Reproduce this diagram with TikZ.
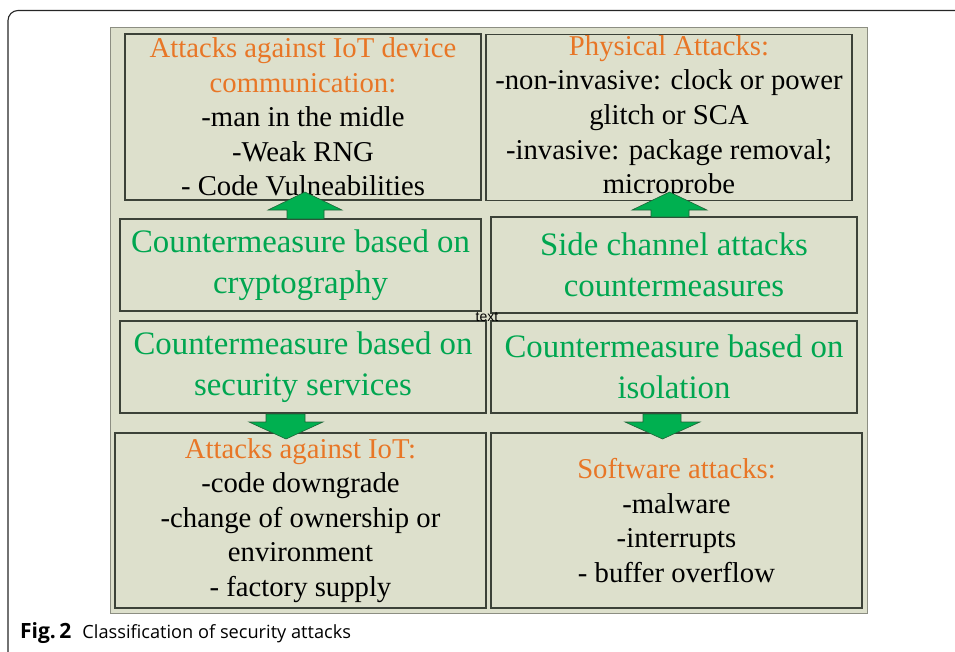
\documentclass[tikz,border=0pt]{standalone}
\usepackage{fontspec}
\setmainfont{Liberation Serif}
\newfontfamily\capfont{Open Sans}
\newfontfamily\tagfont{Liberation Sans}
\definecolor{panelbg}{RGB}{221,224,204}
\definecolor{panelrule}{RGB}{140,142,130}
\definecolor{boxrule}{RGB}{60,66,56}
\definecolor{attackorange}{RGB}{232,118,38}
\definecolor{cmgreen}{RGB}{0,166,80}
\definecolor{arrowfill}{RGB}{0,176,80}
\definecolor{arrowrule}{RGB}{30,100,55}
\tikzset{
  box/.style={draw=boxrule, line width=1.2pt, fill=panelbg, inner sep=0pt,
              align=center, font=\fontsize{28.7}{34.6}\selectfont},
  cmbox/.style={box, text=cmgreen, font=\fontsize{32.8}{41}\selectfont},
  blockarrow/.style={fill=arrowfill, draw=arrowrule, line width=0.6pt, line join=miter},
}
\newcommand{\hdr}[1]{\textcolor{attackorange}{#1}}
\begin{document}
\begin{tikzpicture}[x=1pt,y=-1pt]
\useasboundingbox (0,0) rectangle (955,651);
% outer frame, open to the right and bottom
\begin{scope}
  \clip (0,0) rectangle (955,651);
  \draw[line width=1.1pt, rounded corners=10pt, draw=black!85] (8,10.5) rectangle (990,690);
\end{scope}
% panel background
\fill[panelbg] (110,27) rectangle (867,613);
\draw[panelrule, line width=1pt] (110,27) rectangle (867,613);

% attack boxes
\node[box, minimum width=356pt, minimum height=166pt] (comm) at (303,117)
  {\hdr{Attacks against IoT device}\\\hdr{communication:}\\-man in the midle\\-Weak RNG\\- Code Vulneabilities};
\node[box, minimum width=366pt, minimum height=166pt] (phys) at (669,117.5)
  {\hdr{Physical Attacks:}\\-non-invasive: clock or power\\glitch or SCA\\-invasive: package removal;\\microprobe};
\node[box, minimum width=371pt, minimum height=175pt] (iot) at (300.5,520.5)
  {\hdr{Attacks against IoT:}\\-code downgrade\\-change of ownership or\\environment\\- factory supply};
\node[box, minimum width=371pt, minimum height=175pt] (soft) at (676.5,520.5)
  {\hdr{Software attacks:}\\-malware\\-interrupts\\- buffer overflow};

% countermeasure boxes
\node[cmbox, minimum width=361pt, minimum height=92pt] (crypto) at (300.5,265)
  {Countermeasure based on\\cryptography};
\node[cmbox, minimum width=366pt, minimum height=96pt] (sca) at (674,265)
  {Side channel attacks\\countermeasures};
\node[cmbox, minimum width=366pt, minimum height=92pt] (secserv) at (303,367)
  {Countermeasure based on\\security services};
\node[cmbox, minimum width=366pt, minimum height=92pt] (isol) at (674,367)
  {Countermeasure based on\\isolation};

% stray label between the middle rows
\node[font=\tagfont\fontsize{14}{15}\selectfont, inner sep=0pt] (tag) at (487,317) {text};

% block arrows: countermeasure -> attack class
\draw[blockarrow] (287,219) -- (287,210) -- (268,210) -- (305,192) -- (342,210)
  -- (324,210) -- (324,219) -- cycle;
\draw[blockarrow] (651,217) -- (651,210) -- (632,210) -- (669.5,192) -- (707,210)
  -- (689,210) -- (689,217) -- cycle;
\draw[blockarrow] (266,414) -- (266,422) -- (249,422) -- (286,439) -- (323,422)
  -- (305,422) -- (305,414) -- cycle;
\draw[blockarrow] (643,414) -- (643,422) -- (625,422) -- (662.5,439) -- (700,422)
  -- (681,422) -- (681,414) -- cycle;

% caption
\node[anchor=base west, inner sep=0pt, font=\capfont\fontsize{18.2}{22}\selectfont] (cap) at (20,638)
  {{\fontsize{21}{22}\selectfont\textbf{Fig.\,2}}\hspace{11pt}Classification of security attacks};
\end{tikzpicture}
\end{document}
